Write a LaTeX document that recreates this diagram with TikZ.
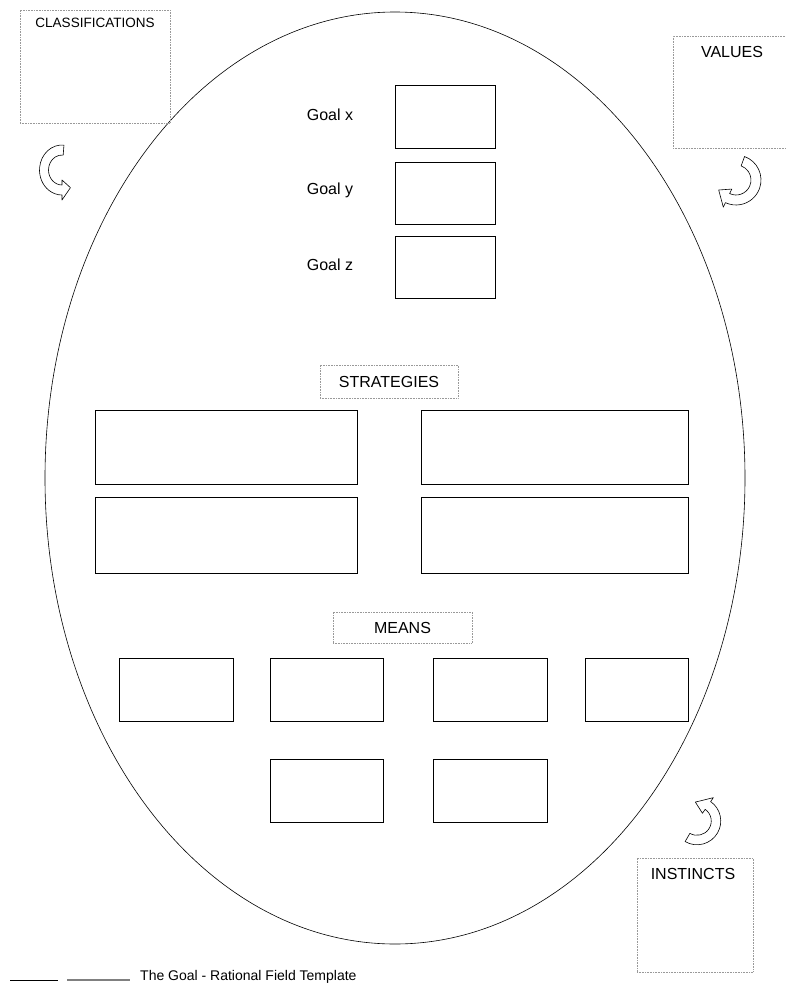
\documentclass[tikz,border=0pt]{standalone}
\usepackage{fontspec}
\setmainfont{Liberation Sans}
\usetikzlibrary{shapes.geometric}
\tikzset{
  plainbox/.style={draw, line width=0.9pt, inner sep=0pt},
  tagbox/.style={draw=gray!80, densely dotted, line width=0.6pt, inner sep=0pt, font=\fontsize{16}{18}\selectfont},
  tagtext/.style={font=\fontsize{16}{18}\selectfont, inner sep=0pt},
  band/.style={draw, line width=0.6pt, fill=white, line join=round},
}
% curved block arrow: #1 placement, #2 start angle, #3 end angle, #4 tip angle
\newcommand{\bendarrow}[4]{%
  \draw[band, #1] (#2:25) arc[start angle=#2, end angle=#3, radius=25]
    -- (#3:30) -- (#4:20) -- (#3:10) -- (#3:15)
    arc[start angle=#3, end angle=#2, radius=15] -- cycle;}
\begin{document}
\begin{tikzpicture}[x=1pt,y=-1pt]
\useasboundingbox (0,0) rectangle (785,983);

\node[draw, ellipse, line width=0.6pt, inner sep=0pt, minimum width=700pt, minimum height=932pt] (field) at (395,478) {};

% side boxes
\node[tagbox, minimum width=150pt, minimum height=113pt] (classbox) at (95,66.5) {};
\node[tagtext, font=\fontsize{13.5}{15}\selectfont] (classlbl) at (95,23) {CLASSIFICATIONS};
\node[tagbox, minimum width=140pt, minimum height=112pt] (valbox) at (743,92) {};
\node[tagtext] (vallbl) at (732,52) {VALUES};
\node[tagbox, minimum width=116pt, minimum height=114pt] (instbox) at (695,915) {};
\node[tagtext] (instlbl) at (693,874) {INSTINCTS};

\bendarrow{shift={(62,170)}, xscale=0.9, yscale=1}{-85}{-270}{-298}
\bendarrow{shift={(736,180)}}{-70}{115}{150}
\bendarrow{shift={(697,821)}, scale=0.95}{120}{-55}{-95}

% goals
\node[plainbox, minimum width=100pt, minimum height=63pt] (gx) at (445,116.5) {};
\node[plainbox, minimum width=100pt, minimum height=62pt] (gy) at (445,193) {};
\node[plainbox, minimum width=100pt, minimum height=62pt] (gz) at (445,267) {};
\node[tagtext] (gxl) at (330,115) {Goal x};
\node[tagtext] (gyl) at (330,190) {Goal y};
\node[tagtext] (gzl) at (330,265) {Goal z};

% strategies
\node[tagbox, minimum width=138pt, minimum height=33pt] (strat) at (389,381.5) {STRATEGIES};
\node[plainbox, minimum width=262pt, minimum height=74pt] (s1) at (226,447) {};
\node[plainbox, minimum width=267pt, minimum height=74pt] (s2) at (554.5,447) {};
\node[plainbox, minimum width=262pt, minimum height=76pt] (s3) at (226,535) {};
\node[plainbox, minimum width=267pt, minimum height=76pt] (s4) at (554.5,535) {};

% means
\node[tagbox, minimum width=139pt, minimum height=31pt] (means) at (402.5,627.5) {MEANS};
\foreach \mx/\mw [count=\i] in {176/114, 326.5/113, 490/114, 636.5/103}
  \node[plainbox, minimum width=\mw pt, minimum height=63pt] (m\i) at (\mx,689.5) {};
\node[plainbox, minimum width=113pt, minimum height=63pt] (m5) at (326.5,790.5) {};
\node[plainbox, minimum width=114pt, minimum height=63pt] (m6) at (490,790.5) {};

% caption at the page foot
\draw[line width=1pt] (10,980) -- (58,980);
\draw[gray, line width=1.4pt] (67,980) -- (130,980);
\node[anchor=base west, inner sep=0pt, font=\fontsize{14}{16}\selectfont] (capt) at (140,980) {The Goal - Rational Field Template};
\end{tikzpicture}
\end{document}
